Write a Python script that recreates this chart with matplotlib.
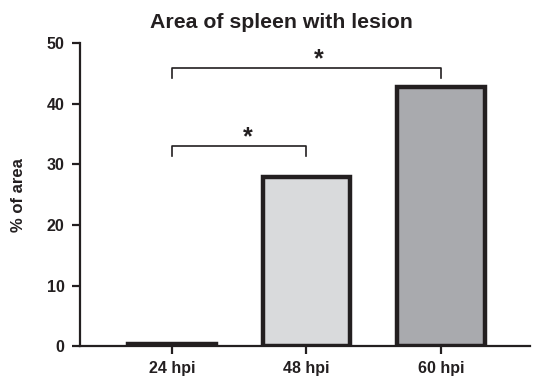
import matplotlib.pyplot as plt

plt.rcParams['font.family'] = ['Liberation Sans', 'DejaVu Sans']

groups = ['24 hpi', '48 hpi', '60 hpi']
area = [0.3, 27.9, 42.7]
colors = ['#ffffff', '#d9dadc', '#a9aaae']

# significance brackets: (from, to, height, drop)
brackets = [(0, 1, 33.0, 1.6), (0, 2, 45.9, 1.7)]
star_x = [0.56, 1.09]

fig = plt.figure(figsize=(5.33, 3.85), dpi=100)
ax = fig.add_axes([0.150, 0.101, 0.844, 0.787])

x = range(len(groups))
ax.bar(x, area, width=0.65, color=colors, edgecolor='#231f20', linewidth=3.2)

for (a, b, h, d), sx in zip(brackets, star_x):
    ax.plot([a, a, b, b], [h - d, h, h, h - d], color='#231f20', lw=1.2)
    ax.text(sx, h - 0.6, '*', ha='center', va='bottom',
            fontsize=18, fontweight='bold', color='#231f20')

ax.set_xlim(-0.684, 2.66)
ax.set_ylim(0, 50)
ax.set_yticks([0, 10, 20, 30, 40, 50])
ax.set_xticks(list(x))
ax.set_xticklabels(groups)
ax.set_ylabel('% of area', fontsize=12, fontweight='bold', color='#231f20')
ax.yaxis.set_label_coords(-0.12, 0.5)
ax.set_title('Area of spleen with lesion', fontsize=15.3, fontweight='bold',
             color='#231f20', pad=11, x=0.449)

for s in ['top', 'right']:
    ax.spines[s].set_visible(False)
for s in ['left', 'bottom']:
    ax.spines[s].set_linewidth(1.6)
    ax.spines[s].set_color('#231f20')
ax.tick_params(width=1.6, length=6, color='#231f20', labelsize=11.5,
               labelcolor='#231f20', pad=5)
for lbl in ax.get_xticklabels() + ax.get_yticklabels():
    lbl.set_fontweight('bold')

fig.savefig('out.png', dpi=100)
